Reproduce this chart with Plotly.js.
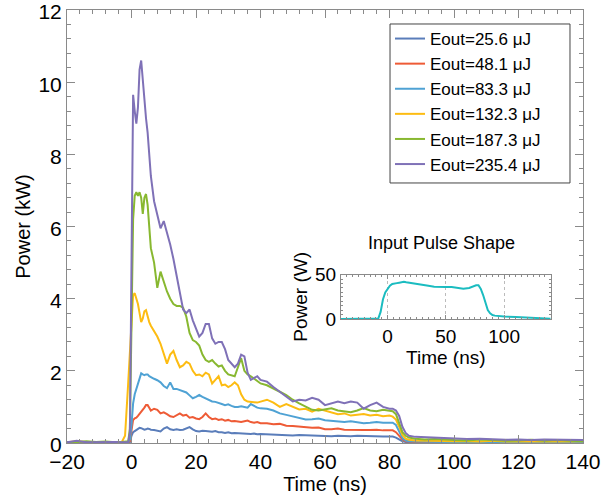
<!DOCTYPE html>
<html>
<head>
<meta charset="utf-8">
<script src="https://cdn.plot.ly/plotly-3.0.1.min.js"></script>
<style>html,body{margin:0;padding:0;background:#fff;}#chart{width:602px;height:497px;}</style>
</head>
<body>
<div id="chart"></div>
<script>
// Time axis (ns), shared by all output curves
const timeNs = [-20,-17,-14,-11,-8,-5,-3,-2,-1,-0.5,
  0,0.5,1,1.5,2,2.5,3,3.5,4,4.5,5,5.5,6,
  7,8,9,10,11,12,13,14,15,16,17,18,19,20,21,22,23,24,25,26,27,28,29,30,31,32,33,34,35,36,37,38,39,40,
  42,44,46,48,50,52,54,56,58,60,62,64,66,68,70,72,74,76,78,80,
  81,82,83,84,85,86,
  88,91,94,97,100,
  104,108,112,116,120,124,128,132,136,140];

const labels = ["Eout=25.6 \u03bcJ","Eout=48.1 \u03bcJ","Eout=83.3 \u03bcJ","Eout=132.3 \u03bcJ","Eout=187.3 \u03bcJ","Eout=235.4 \u03bcJ"];

// Output power (kW)
const p25_6 = [0.01,0.01,0.01,0.01,0.01,0.01,0.01,0.01,0.01,0.02,
  0.2,0.3,0.33,0.36,0.4,0.42,0.41,0.39,0.37,0.38,0.4,0.39,0.37,
  0.36,0.34,0.32,0.4,0.44,0.38,0.36,0.38,0.36,0.37,0.4,0.44,0.38,0.33,0.32,0.34,0.33,0.32,0.31,0.33,0.3,0.3,0.28,0.3,0.27,0.28,0.27,0.26,0.27,0.26,0.25,0.26,0.24,0.25,
  0.24,0.23,0.24,0.22,0.21,0.22,0.21,0.2,0.21,0.2,0.19,0.2,0.19,0.19,0.2,0.19,0.18,0.19,0.18,0.18,
  0.18,0.15,0.09,0.05,0.03,0.02,
  0.02,0.02,0.01,0.02,0.01,
  0.01,0.02,0.01,0.01,0.02,0.01,0.01,0.02,0.01,0.01];

const p48_1 = [0.01,0.02,0.01,0.01,0.02,0.01,0.01,0.01,0.02,0.05,
  0.35,0.64,0.68,0.7,0.75,0.8,0.88,0.92,0.98,1.05,1.05,0.98,0.9,
  0.95,0.92,0.82,0.85,0.8,0.74,0.72,0.78,0.82,0.76,0.78,0.7,0.72,0.68,0.66,0.72,0.82,0.72,0.66,0.68,0.64,0.66,0.62,0.64,0.6,0.61,0.6,0.58,0.6,0.62,0.58,0.56,0.58,0.55,
  0.55,0.52,0.53,0.48,0.47,0.45,0.44,0.42,0.43,0.38,0.38,0.4,0.37,0.36,0.37,0.36,0.36,0.37,0.35,0.35,
  0.35,0.3,0.2,0.1,0.05,0.04,
  0.03,0.03,0.02,0.03,0.02,
  0.02,0.02,0.02,0.01,0.02,0.02,0.01,0.02,0.02,0.02];

const p83_3 = [0.02,0.01,0.02,0.01,0.02,0.01,0.02,0.02,0.03,0.1,
  0.5,1.1,1.35,1.5,1.7,1.85,1.93,1.9,1.88,1.9,1.9,1.85,1.82,
  1.78,1.74,1.68,1.58,1.52,1.68,1.5,1.5,1.46,1.42,1.4,1.32,1.24,1.28,1.33,1.28,1.24,1.2,1.15,1.14,1.1,1.08,1.05,1.07,1.03,1.0,1.0,1.02,1.0,0.98,1.08,1.02,0.98,0.96,
  0.95,0.9,0.82,0.78,0.74,0.68,0.65,0.66,0.68,0.63,0.62,0.6,0.58,0.6,0.57,0.55,0.56,0.58,0.56,0.57,
  0.56,0.5,0.32,0.14,0.07,0.05,
  0.04,0.03,0.04,0.03,0.03,
  0.03,0.02,0.03,0.02,0.03,0.02,0.03,0.02,0.02,0.03];

const p132_3 = [0.02,0.05,0.03,0.02,0.03,0.02,0.03,0.2,1.7,2.6,
  3.4,4.1,4.15,4.0,3.85,3.6,3.35,3.45,3.65,3.68,3.5,3.35,3.25,
  3.1,2.95,2.75,2.45,2.2,2.45,2.55,2.3,2.1,2.15,2.25,2.2,2.0,1.88,1.9,1.85,1.95,1.9,1.65,1.75,1.85,1.6,1.62,1.55,1.6,1.68,1.6,1.35,1.2,1.15,1.15,1.13,1.12,1.15,
  1.2,1.12,1.0,1.08,1.0,0.93,0.95,0.87,0.95,0.9,0.84,0.8,0.82,0.76,0.78,0.8,0.76,0.78,0.74,0.76,
  0.73,0.65,0.45,0.22,0.12,0.09,
  0.07,0.06,0.05,0.06,0.05,
  0.05,0.04,0.06,0.04,0.05,0.04,0.05,0.04,0.04,0.05];

const p187_3 = [0.03,0.02,0.05,0.03,0.04,0.02,0.03,0.03,0.05,0.4,
  3.5,6.2,6.85,6.95,6.85,6.95,6.8,6.35,6.8,6.9,6.6,6.0,5.4,
  5.0,4.3,4.75,4.45,4.2,4.0,3.85,3.8,3.8,3.75,3.5,3.05,2.85,2.8,2.7,2.45,2.3,2.25,2.3,2.2,2.12,2.15,2.0,1.9,1.88,1.85,2.1,2.35,2.0,1.9,1.85,1.78,1.7,1.65,
  1.6,1.5,1.42,1.33,1.2,1.1,1.02,0.92,0.9,0.94,0.96,0.9,0.87,0.85,0.9,0.97,0.9,0.88,0.92,0.9,
  0.88,0.8,0.55,0.3,0.2,0.15,
  0.12,0.1,0.11,0.09,0.08,
  0.07,0.1,0.08,0.06,0.07,0.09,0.06,0.08,0.06,0.05];

const p235_4 = [0.02,0.06,0.02,0.03,0.02,0.03,0.02,0.02,0.03,0.3,
  5.0,9.65,9.2,8.85,9.3,10.35,10.6,10.0,9.5,9.0,8.6,8.0,7.4,
  6.7,6.3,5.95,6.15,5.85,5.5,5.1,4.6,4.1,3.7,3.6,3.7,3.4,3.15,2.95,3.05,3.3,3.3,2.9,2.75,2.8,2.8,2.6,2.3,2.2,2.1,2.2,2.45,2.4,1.95,1.75,1.8,1.85,1.75,
  1.7,1.55,1.42,1.28,1.15,1.2,1.18,1.25,1.2,1.05,1.1,1.15,1.1,1.15,1.12,0.95,1.05,1.12,1.0,0.95,
  0.95,0.9,0.75,0.45,0.28,0.2,
  0.17,0.16,0.15,0.13,0.12,
  0.11,0.12,0.1,0.09,0.1,0.08,0.1,0.09,0.08,0.08];

const colors = ["#5a7dba","#ee5b36","#4fa2d4","#fdbc12","#88b830","#7f71b7"];
const series = [p25_6,p48_1,p83_3,p132_3,p187_3,p235_4];

// Input pulse (inset)
const inTime = [-40,-30,-20,-12,-10,-8,-6,-4,-2,0,2,4,6,8,10,12,14,16,18,20,22,24,26,28,30,35,40,45,50,55,60,65,70,72,74,76,78,80,82,84,86,88,90,92,95,100,110,120,130,140];
const inPower = [0,0,0,0,0,0.5,8,22,30,34,37.5,39.5,40.3,40.5,41,41.5,42,41.5,41,40.5,40.8,40.3,39.5,39,38.5,37.5,36.5,36,36.2,36,35,34,35,36,37,38,38,34,27,17,10,6.5,4.5,3.8,3.2,2.7,2.2,1.6,0.9,0.4];

const traces = series.map((s,i)=>({
  x: timeNs, y: s, type:'scatter', mode:'lines', name: labels[i],
  line:{color:colors[i], width:2}, xaxis:'x', yaxis:'y'
}));
traces.push({x: inTime, y: inPower, type:'scatter', mode:'lines', showlegend:false,
  line:{color:'#1bbcc0', width:2}, xaxis:'x2', yaxis:'y2'});

const font = "Liberation Sans, Arial, Helvetica, sans-serif";
const frame = '#8a8a8a';
const layout = {
  width:602, height:497,
  margin:{l:67, r:19, t:10, b:54},
  paper_bgcolor:'#fff', plot_bgcolor:'#fff',
  font:{family:font, color:'#000'},
  showlegend:true,
  legend:{x:0.626, y:0.9746, xanchor:'left', yanchor:'top', bgcolor:'rgba(0,0,0,0)',
    borderwidth:0, font:{size:17, family:font}, itemwidth:30},
  shapes:[{type:'rect', xref:'paper', yref:'paper', x0:0.626, x1:0.9748, y0:0.6005, y1:0.9677,
    line:{color:'#444', width:1}, fillcolor:'#fff', layer:'below'}],
  xaxis:{range:[-20,140], domain:[0,1], anchor:'y', showgrid:false, zeroline:false,
    showline:true, linecolor:frame, linewidth:1, mirror:'allticks',
    ticks:'inside', ticklen:8, tickcolor:frame, tickwidth:1, dtick:20, tick0:0,
    minor:{ticks:'inside', ticklen:4, dtick:4, tickcolor:frame},
    ticklabeloverflow:'allow',
    tickfont:{size:21}, title:{text:'Time (ns)', font:{size:20}, standoff:0}},
  yaxis:{range:[0,12.0001], domain:[0,1], anchor:'x', showgrid:false, zeroline:false,
    showline:true, linecolor:frame, linewidth:1, mirror:'allticks',
    ticks:'inside', ticklen:8, tickcolor:frame, tickwidth:1, dtick:2, tick0:0,
    minor:{ticks:'inside', ticklen:4, dtick:0.4, tickcolor:frame},
    ticklabeloverflow:'allow', ticklabelshift:2,
    tickfont:{size:21}, title:{text:'Power (kW)', font:{size:20}, standoff:2}},
  xaxis2:{range:[-40,140], domain:[0.531,0.9374], anchor:'y2', showgrid:true,
    gridcolor:'#bbb', griddash:'dot', gridwidth:1, zeroline:false,
    showline:true, linecolor:frame, linewidth:1, mirror:'allticks',
    ticks:'inside', ticklen:4, tickcolor:frame, dtick:50, tick0:0,
    minor:{ticks:'inside', ticklen:2, dtick:5, tickcolor:frame},
    tickfont:{size:19}, title:{text:'Time (ns)', font:{size:19}, standoff:0}},
  yaxis2:{range:[0,50], domain:[0.2864,0.3887], anchor:'x2', showgrid:false, zeroline:false,
    showline:true, linecolor:frame, linewidth:1, mirror:'allticks',
    ticks:'inside', ticklen:4, tickcolor:frame, dtick:50, tick0:0,
    minor:{ticks:'inside', ticklen:2, dtick:5, tickcolor:frame},
    tickfont:{size:19}, title:{text:'Power (W)', font:{size:19}, standoff:2}},
  annotations:[{text:'Input Pulse Shape', xref:'paper', yref:'paper',
    x:0.725, y:0.463, xanchor:'center', yanchor:'middle', showarrow:false,
    font:{size:18, family:font, color:'#000'}}]
};

Plotly.newPlot('chart', traces, layout, {displayModeBar:false, staticPlot:true});
</script>
</body>
</html>
